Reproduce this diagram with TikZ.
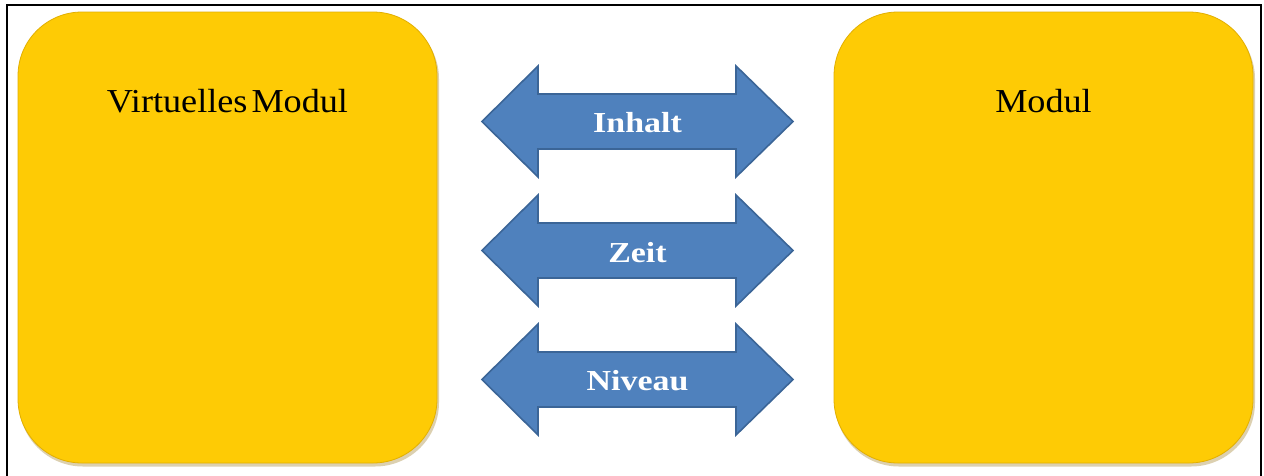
\documentclass[tikz,border=0pt]{standalone}
\usepackage{fontspec}
\setmainfont{Liberation Serif}
\newfontfamily\titlefont[FakeStretch=1.08]{Liberation Serif}
\newfontfamily\labelfont[FakeStretch=1.17]{Liberation Serif}
\usetikzlibrary{calc}
\definecolor{boxyellow}{HTML}{FECB05}
\definecolor{boxedge}{HTML}{E2AF00}
\definecolor{shadowc}{HTML}{A88A3A}
\definecolor{arrowblue}{HTML}{4F81BD}
\definecolor{arrowedge}{HTML}{3B6597}
\tikzset{
  x=1pt, y=-1pt,
  modbox/.style={fill=boxyellow, draw=boxedge, line width=0.8pt, rounded corners=64pt},
  modshadow/.style={fill=shadowc, opacity=0.4, rounded corners=64pt},
  titletext/.style={font=\titlefont\fontsize{33.5}{36}\selectfont, text=black, anchor=base, inner sep=0pt},
  arrowshape/.style={fill=arrowblue, draw=arrowedge, line width=1.6pt, line join=miter},
  arrowtext/.style={font=\labelfont\bfseries\fontsize{29}{32}\selectfont, text=white, anchor=base, inner sep=0pt},
}
\begin{document}
\begin{tikzpicture}
\useasboundingbox (0,0) rectangle (1264,475);
\fill[white] (0,0) rectangle (1264,475);
% frame
\draw[black, line width=1.5pt] (7,480) -- (7,5) -- (1261,5) -- (1261,480);
% shadows
\fill[modshadow] (19,15) rectangle (439,466.5);
\fill[modshadow] (835,15) rectangle (1255,466.5);
% boxes
\draw[modbox] (18,12) rectangle (437,463);
\draw[modbox] (834,12) rectangle (1253,463);
\node[titletext] (vm) at (227.5,112) {Virtuelles\hspace{0.12em}Modul};
\node[titletext] (m) at (1043.5,112) {Modul};
% arrows
\draw[arrowshape] (482,121.5) -- (538,66) -- (538,94) -- (736,94)
    -- (736,66) -- (793,121.5) -- (736,177) -- (736,149)
    -- (538,149) -- (538,177) -- cycle;
\node[arrowtext] (inhalt) at (637.5,132) {Inhalt};
\draw[arrowshape] (482,250.5) -- (538,195) -- (538,223) -- (736,223)
    -- (736,195) -- (793,250.5) -- (736,306) -- (736,278)
    -- (538,278) -- (538,306) -- cycle;
\node[arrowtext] (zeit) at (637.5,262) {Zeit};
\draw[arrowshape] (482,379.5) -- (538,324) -- (538,352) -- (736,352)
    -- (736,324) -- (793,379.5) -- (736,435) -- (736,407)
    -- (538,407) -- (538,435) -- cycle;
\node[arrowtext] (niveau) at (637.5,390) {Niveau};
\end{tikzpicture}
\end{document}
